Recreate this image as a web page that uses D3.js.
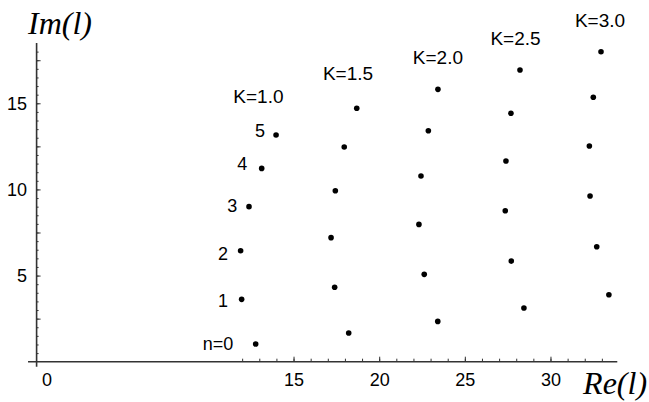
<!DOCTYPE html>
<html>
<head>
<meta charset="utf-8">
<script src="https://cdn.jsdelivr.net/npm/d3@7"></script>
<style>
  body { margin: 0; background: #fff; }
  svg { display: block; }
  text { font-family: "Liberation Sans", Arial, sans-serif; fill: #000; }
  .title { font-family: "Liberation Serif", "Times New Roman", serif; font-style: italic; }
</style>
</head>
<body>
<svg width="649" height="402"></svg>
<script>
// data: Regge-like poles, one column per K, n = 0..5
const kLabels = ["K=1.0", "K=1.5", "K=2.0", "K=2.5", "K=3.0"];
const reK10 = [12.79, 11.97, 11.91, 12.40, 13.14, 13.98];
const imK10 = [1.03, 3.62, 6.44, 9.00, 11.22, 13.16];
const reK15 = [18.22, 17.40, 17.19, 17.44, 17.96, 18.69];
const imK15 = [1.67, 4.32, 7.20, 9.92, 12.46, 14.71];
const reK20 = [23.42, 22.63, 22.32, 22.44, 22.87, 23.43];
const imK20 = [2.34, 5.07, 7.97, 10.78, 13.41, 15.81];
const reK25 = [28.45, 27.71, 27.36, 27.40, 27.69, 28.22];
const imK25 = [3.12, 5.84, 8.76, 11.65, 14.42, 16.93];
const reK30 = [33.41, 32.70, 32.31, 32.27, 32.50, 32.95];
const imK30 = [3.89, 6.67, 9.62, 12.52, 15.35, 17.99];

// label anchors in data units
const kLabelRe = [12.95, 18.18, 23.43, 27.96, 32.89];
const kLabelIm = [15.04, 16.35, 17.28, 18.38, 19.41];
const nLabels = ["n=0", "1", "2", "3", "4", "5"];
const nLabelRe = [11.48, 11.17, 11.17, 11.71, 12.30, 13.33];
const nLabelIm = [0.68, 3.16, 5.90, 8.71, 11.13, 13.06];

const xTickLabels = [0, 15, 20, 25, 30];
const yTickLabels = [5, 10, 15];

const reAll = [reK10, reK15, reK20, reK25, reK30];
const imAll = [imK10, imK15, imK20, imK25, imK30];
const points = [];
reAll.forEach((re, k) => re.forEach((v, n) => points.push({re: v, im: imAll[k][n]})));

// dimensions
const margin = {top: 43, left: 36.6};
const width = 582.4;
const height = 318.7;

const svg = d3.select("svg")
  .append("g")
  .attr("transform", `translate(${margin.left},${margin.top})`);

const x = d3.scaleLinear().domain([0, 34]).range([0, width]);
const y = d3.scaleLinear().domain([0, 18.5]).range([height, 0]);

// axis lines
svg.append("line")
  .attr("x1", x(-0.5)).attr("x2", x(33.9))
  .attr("y1", y(0)).attr("y2", y(0))
  .attr("stroke", "#333").attr("stroke-width", 1.6);
svg.append("line")
  .attr("x1", x(0)).attr("x2", x(0))
  .attr("y1", y(-0.3)).attr("y2", y(18.5))
  .attr("stroke", "#333").attr("stroke-width", 1.6);

// x ticks (point upward)
const xMinor = svg.append("g")
  .attr("transform", `translate(0,${height})`)
  .call(d3.axisBottom(x).tickValues(d3.range(12, 34)).tickSize(-3).tickFormat(""));
xMinor.select(".domain").remove();
const xMajor = svg.append("g")
  .attr("transform", `translate(0,${height})`)
  .call(d3.axisBottom(x).tickValues(xTickLabels).tickSize(-5).tickFormat(d3.format("d")));
xMajor.select(".domain").remove();
xMajor.selectAll(".tick line").filter(d => d === 0).remove();
xMajor.selectAll("text")
  .attr("y", 24.5).attr("dy", null)
  .attr("dx", d => d === 0 ? 10 : 0)
  .style("font-size", "18px")
  .style("font-family", "Liberation Sans, Arial, sans-serif");

// y ticks (point right)
const yMinor = svg.append("g")
  .call(d3.axisLeft(y).tickValues(d3.range(0.5, 18.01, 0.5)).tickSize(-2).tickFormat(""));
yMinor.select(".domain").remove();
const yMid = svg.append("g")
  .call(d3.axisLeft(y).tickValues([2.5, 5, 7.5, 10, 12.5, 15, 17.5]).tickSize(-4).tickFormat(""));
yMid.select(".domain").remove();
svg.selectAll(".tick line").attr("stroke", "#333");

svg.selectAll(".ylab")
  .data(yTickLabels)
  .enter().append("text")
  .attr("x", -9.5)
  .attr("y", d => y(d) + 6.5)
  .attr("text-anchor", "end")
  .style("font-size", "18px")
  .text(d => d);

// points
svg.selectAll(".dot")
  .data(points)
  .enter().append("circle")
  .attr("cx", d => x(d.re))
  .attr("cy", d => y(d.im))
  .attr("r", 2.8)
  .attr("fill", "#000");

// K labels
svg.selectAll(".klab")
  .data(kLabels)
  .enter().append("text")
  .attr("x", (d, i) => x(kLabelRe[i]))
  .attr("y", (d, i) => y(kLabelIm[i]))
  .attr("text-anchor", "middle")
  .style("font-size", "19px")
  .text(d => d);

// n labels
svg.selectAll(".nlab")
  .data(nLabels)
  .enter().append("text")
  .attr("x", (d, i) => x(nLabelRe[i]))
  .attr("y", (d, i) => y(nLabelIm[i]))
  .attr("text-anchor", "end")
  .style("font-size", "18px")
  .text(d => d);

// axis titles
svg.append("text")
  .attr("class", "title")
  .attr("x", -8.6)
  .attr("y", -9)
  .style("font-size", "32px")
  .text("Im(l)");
svg.append("text")
  .attr("class", "title")
  .attr("x", 546.5)
  .attr("y", 351)
  .style("font-size", "32px")
  .text("Re(l)");
</script>
</body>
</html>
